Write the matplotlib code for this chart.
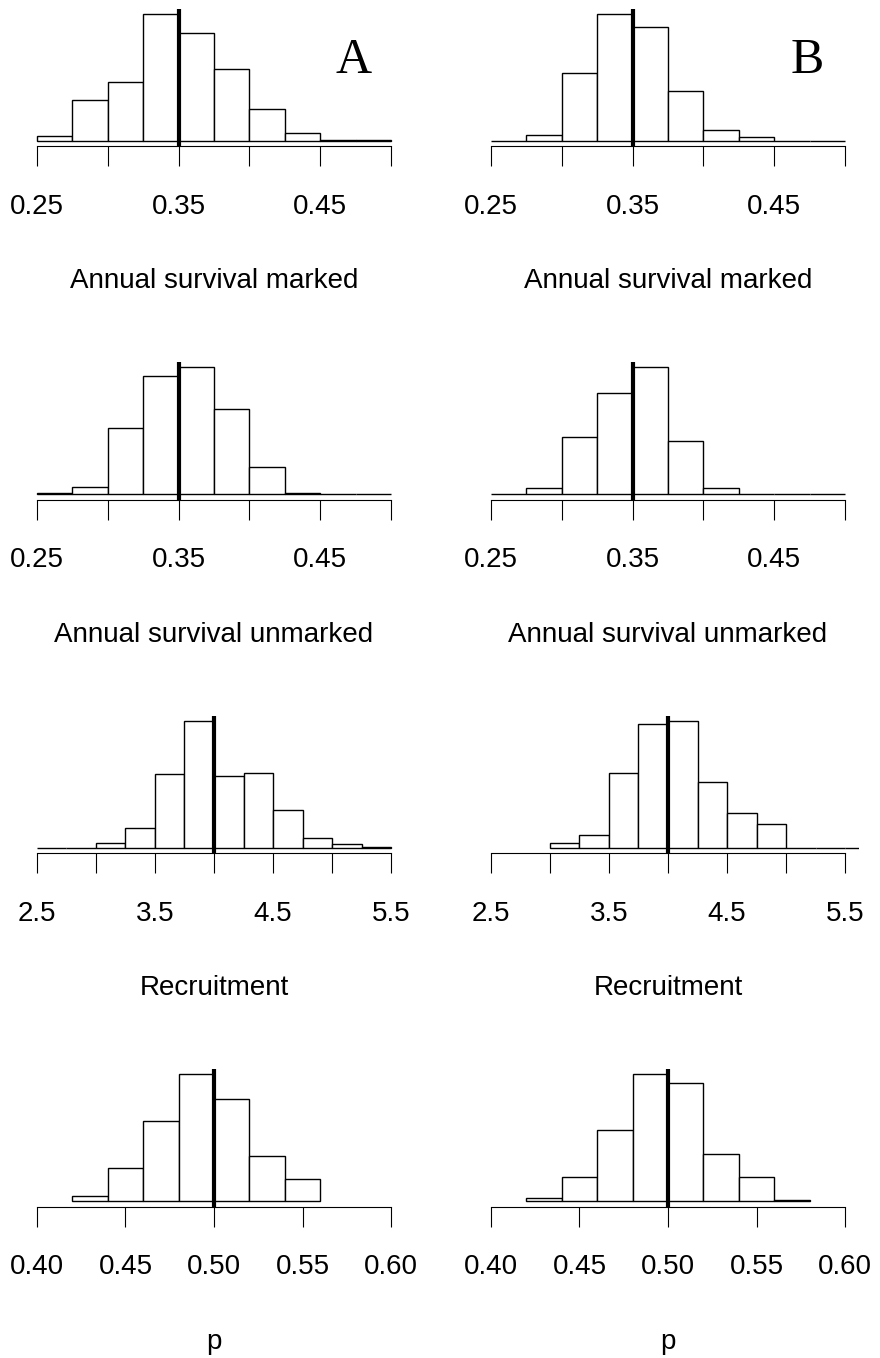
import numpy as np
import matplotlib
matplotlib.use('Agg')
import matplotlib.pyplot as plt

plt.rcParams['font.family'] = ['Liberation Sans', 'DejaVu Sans']

# ─── DATA (frequencies) ──────────────────────────────────────────────────────
surv_breaks = np.arange(0.25, 0.5001, 0.025)
rec_breaks_a = np.arange(2.5, 5.5001, 0.25)
rec_breaks_b = np.arange(3.0, 5.7501, 0.25)
p_breaks_a = np.arange(0.42, 0.5601, 0.02)
p_breaks_b = np.arange(0.42, 0.5801, 0.02)

marked_a = [10, 90, 130, 283, 240, 159, 70, 17, 1, 1]
marked_b = [0, 16, 178, 336, 301, 131, 28, 9, 1, 0]
unmarked_a = [3, 18, 151, 271, 291, 196, 62, 4, 1, 1]
unmarked_b = [0, 17, 163, 288, 362, 151, 17, 1, 0, 0]
recruit_a = [0, 0, 12, 47, 173, 300, 169, 177, 89, 23, 9, 1]
recruit_b = [11, 27, 160, 264, 272, 141, 74, 52, 0, 0, 0]
p_a = [12, 81, 194, 306, 245, 109, 53]
p_b = [9, 59, 171, 303, 282, 114, 57, 4]

true_surv = 0.35
true_rec = 4.0
true_p = 0.50

surv_ticks = [0.25, 0.30, 0.35, 0.40, 0.45, 0.50]
surv_labels = ['0.25', '', '0.35', '', '0.45', '']
rec_ticks = [2.5, 3.0, 3.5, 4.0, 4.5, 5.0, 5.5]
rec_labels = ['2.5', '', '3.5', '', '4.5', '', '5.5']
p_ticks = [0.40, 0.45, 0.50, 0.55, 0.60]
p_labels = ['0.40', '0.45', '0.50', '0.55', '0.60']

rows = [
    # (breaks A, counts A, breaks B, counts B, true value, ticks, labels, xlab)
    (surv_breaks, marked_a, surv_breaks, marked_b, true_surv, surv_ticks, surv_labels, 'Annual survival marked'),
    (surv_breaks, unmarked_a, surv_breaks, unmarked_b, true_surv, surv_ticks, surv_labels, 'Annual survival unmarked'),
    (rec_breaks_a, recruit_a, rec_breaks_b, recruit_b, true_rec, rec_ticks, rec_labels, 'Recruitment'),
    (p_breaks_a, p_a, p_breaks_b, p_b, true_p, p_ticks, p_labels, 'p'),
]

# ─── FIGURE ──────────────────────────────────────────────────────────────────
W, H = 880, 1358
fig = plt.figure(figsize=(W / 100, H / 100), dpi=100)

col_left = [22.8, 476.8]
ax_w = 382.4
ax_h = 137.5


def draw_panel(ax, breaks, counts, truth, ticks, labels, xlab):
    breaks = np.asarray(breaks)
    ax.bar(breaks[:-1], counts, width=np.diff(breaks), align='edge',
           facecolor='white', edgecolor='black', linewidth=1.0)
    ax.axvline(truth, color='black', lw=3)
    lo, hi = ticks[0], ticks[-1]
    span = hi - lo
    ax.set_xlim(lo - 0.04 * span, hi + 0.04 * span)
    ymax = max(counts)
    ax.set_ylim(-0.04 * ymax, 1.04 * ymax)
    for s in ['top', 'left', 'right']:
        ax.spines[s].set_visible(False)
    ax.spines['bottom'].set_bounds(lo, hi)
    ax.spines['bottom'].set_linewidth(0.8)
    ax.set_yticks([])
    ax.set_xticks(ticks)
    ax.set_xticklabels(labels)
    ax.tick_params(axis='x', direction='out', length=14.4, width=0.8,
                   labelsize=20, pad=20)
    ax.set_xlabel(xlab, fontsize=20, labelpad=35)
    ax.patch.set_alpha(0)


for k, (ba, ca, bb, cb, truth, ticks, labels, xlab) in enumerate(rows):
    top = 8.5 + 353.5 * k
    for c, (br, cn) in enumerate([(ba, ca), (bb, cb)]):
        rect = [col_left[c] / W, 1 - (top + ax_h) / H, ax_w / W, ax_h / H]
        ax = fig.add_axes(rect)
        draw_panel(ax, br, cn, truth, ticks, labels, xlab)
        if k == 0:
            ax.text(0.864, 0.623, 'AB'[c], transform=ax.transAxes,
                    fontsize=36, family='Liberation Serif',
                    ha='center', va='center')

fig.savefig('out.png', dpi=100)
